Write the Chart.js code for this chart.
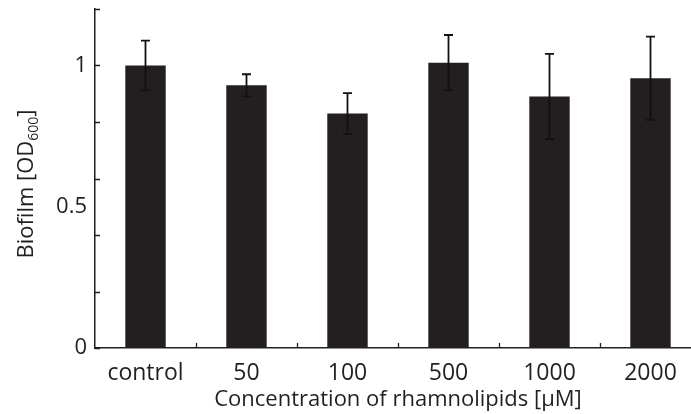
<!DOCTYPE html>
<html>
<head>
<meta charset="utf-8">
<script src="https://cdn.jsdelivr.net/npm/chart.js@4.4.0/dist/chart.umd.min.js"></script>
<style>
  html, body { margin: 0; padding: 0; background: #fff; overflow: hidden; }
  #wrap { width: 711px; height: 414px; }
</style>
</head>
<body>
<div id="wrap"><canvas id="biofilmChart" width="711" height="414"></canvas></div>
<script>
// Data
const categories = ['control', '50', '100', '500', '1000', '2000'];
const biofilm = [1.00, 0.93, 0.83, 1.01, 0.89, 0.955];
const errors = [0.088, 0.039, 0.072, 0.098, 0.151, 0.147];
const yLabelValues = [0, 0.5, 1];
const yTickMarks = [0, 0.2, 0.4, 0.6, 0.8, 1.0, 1.2];

const ink = '#231f20';
const fontFamily = "'Open Sans', 'DejaVu Sans', sans-serif";

// error bars drawn from the bar elements and the y scale
const errorBars = {
  id: 'errorBars',
  afterDatasetsDraw(chart) {
    const ctx = chart.ctx;
    const y = chart.scales.y;
    const meta = chart.getDatasetMeta(0);
    ctx.save();
    ctx.strokeStyle = '#111';
    ctx.lineWidth = 1.8;
    meta.data.forEach((bar, i) => {
      const top = y.getPixelForValue(biofilm[i] + errors[i]);
      const bottom = y.getPixelForValue(biofilm[i] - errors[i]);
      const cap = 4.5;
      ctx.beginPath();
      ctx.moveTo(bar.x, top);
      ctx.lineTo(bar.x, bottom);
      ctx.moveTo(bar.x - cap, top);
      ctx.lineTo(bar.x + cap, top);
      ctx.moveTo(bar.x - cap, bottom);
      ctx.lineTo(bar.x + cap, bottom);
      ctx.stroke();
    });
    ctx.restore();
  }
};

// short inward tick marks on both axes
const inwardTicks = {
  id: 'inwardTicks',
  afterDraw(chart) {
    const ctx = chart.ctx;
    const x = chart.scales.x;
    const y = chart.scales.y;
    const area = chart.chartArea;
    const len = 5;
    ctx.save();
    ctx.strokeStyle = ink;
    ctx.lineWidth = 1.3;
    ctx.beginPath();
    yTickMarks.forEach(v => {
      const py = Math.round(y.getPixelForValue(v)) + 0.5;
      ctx.moveTo(area.left, py);
      ctx.lineTo(area.left + len, py);
    });
    const step = x.getPixelForValue(1) - x.getPixelForValue(0);
    for (let i = 0; i < categories.length - 1; i++) {
      const px = Math.round(x.getPixelForValue(i) + step / 2) + 0.5;
      ctx.moveTo(px, area.bottom);
      ctx.lineTo(px, area.bottom - len);
    }
    ctx.stroke();
    ctx.restore();
  }
};

// y axis title with subscript
const yTitle = {
  id: 'yTitle',
  afterDraw(chart) {
    const ctx = chart.ctx;
    const main = 'Biofilm [OD';
    const sub = '600';
    const end = ']';
    const big = '22px ' + fontFamily;
    const small = '14px ' + fontFamily;
    ctx.save();
    ctx.fillStyle = ink;
    ctx.textBaseline = 'alphabetic';
    ctx.font = big;
    const w1 = ctx.measureText(main).width;
    const w3 = ctx.measureText(end).width;
    ctx.font = small;
    const w2 = ctx.measureText(sub).width;
    const total = w1 + w2 + w3;
    ctx.translate(33, 184);
    ctx.rotate(-Math.PI / 2);
    let cx = -total / 2;
    ctx.font = big;
    ctx.fillText(main, cx, 0);
    cx += w1;
    ctx.font = small;
    ctx.fillText(sub, cx, 5);
    cx += w2;
    ctx.font = big;
    ctx.fillText(end, cx, 0);
    ctx.restore();
  }
};

const ctx = document.getElementById('biofilmChart').getContext('2d');
window.biofilmChart = new Chart(ctx, {
  type: 'bar',
  data: {
    labels: categories,
    datasets: [{
      data: biofilm,
      backgroundColor: ink,
      borderWidth: 0,
      barPercentage: 0.4,
      categoryPercentage: 1.0
    }]
  },
  options: {
    responsive: false,
    animation: false,
    layout: { padding: { left: 0, top: 9, right: 10, bottom: 0 } },
    plugins: {
      legend: { display: false },
      tooltip: { enabled: false }
    },
    scales: {
      x: {
        grid: { display: false, drawTicks: false },
        border: { display: true, color: ink, width: 1.5 },
        ticks: {
          color: ink,
          font: { family: fontFamily, size: 23 },
          padding: 12,
          maxRotation: 0
        },
        title: {
          display: true,
          text: 'Concentration of rhamnolipids [μM]',
          color: ink,
          font: { family: fontFamily, size: 22 },
          padding: { top: -4, bottom: 1 }
        },
        afterFit(scale) {
          scale.height = 66;
          scale.paddingLeft = 0;
          scale.paddingRight = 0;
        }
      },
      y: {
        min: 0,
        max: 1.2,
        grid: { display: false, drawTicks: false },
        border: { display: true, color: ink, width: 1.5 },
        afterBuildTicks(scale) {
          scale.ticks = yLabelValues.map(v => ({ value: v }));
        },
        ticks: {
          color: ink,
          font: { family: fontFamily, size: 22 },
          padding: 8,
          callback: v => String(v)
        },
        afterFit(scale) {
          scale.width = 95;
          scale.paddingTop = 0;
          scale.paddingBottom = 0;
        }
      }
    }
  },
  plugins: [errorBars, inwardTicks, yTitle]
});
</script>
</body>
</html>
